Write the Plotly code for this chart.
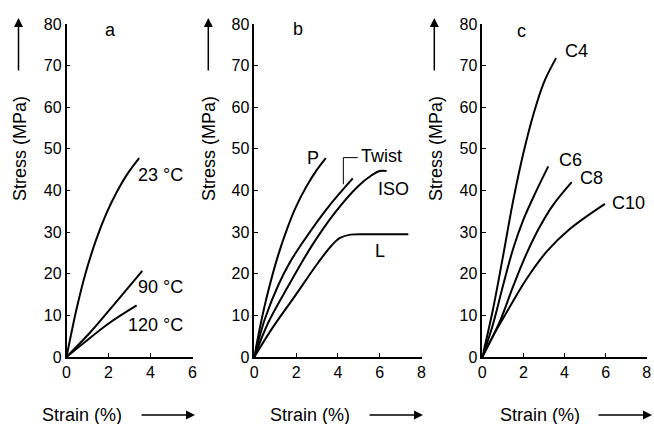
import plotly.graph_objects as go

# ---- data ----
# panel a: temperature
a_23_x = [0, 0.25, 0.5, 0.9, 1.4, 1.9, 2.4, 2.9, 3.46]
a_23_y = [0, 6.2, 12.0, 20.0, 28.0, 34.5, 39.7, 44.0, 47.8]
a_90_x = [0, 1.2, 2.31, 3.61]
a_90_y = [0, 6.3, 12.9, 20.7]
a_120_x = [0, 0.88, 1.99, 3.34]
a_120_y = [0, 3.6, 8.0, 12.4]

# panel b: orientation
b_P_x = [0, 0.3, 0.67, 1.15, 1.6, 1.95, 2.5, 3.0, 3.42]
b_P_y = [0, 7.8, 15.9, 24.6, 31.2, 35.6, 41.0, 45.0, 47.8]
b_T_x = [0, 0.25, 0.51, 1.15, 1.7, 2.27, 3.47, 4.71]
b_T_y = [0, 4.8, 9.2, 17.3, 22.7, 27.2, 35.6, 42.9]
b_I_x = [0, 0.67, 1.63, 2.75, 3.86, 4.98, 5.6, 6.0, 6.33]
b_I_y = [0, 8.3, 17.1, 26.7, 34.7, 41.1, 43.6, 44.7, 44.7]
b_L_x = [0, 0.83, 1.95, 3.06, 3.7, 4.1, 4.6, 5.5, 7.37]
b_L_y = [0, 6.7, 14.7, 22.7, 26.8, 28.6, 29.4, 29.5, 29.5]

# panel c: chain length
c_4_x = [0, 0.5, 1.0, 1.5, 2.0, 2.5, 3.0, 3.59]
c_4_y = [0, 11, 24, 37.5, 49, 58.5, 66, 71.8]
c_6_x = [0, 0.5, 1.0, 1.5, 2.0, 2.6, 3.21]
c_6_y = [0, 7.5, 17.0, 26.0, 33.0, 39.6, 45.8]
c_8_x = [0, 0.86, 1.51, 2.16, 2.81, 3.46, 4.35]
c_8_y = [0, 8.6, 17.1, 24.9, 31.4, 36.6, 42.0]
c_10_x = [0, 0.54, 1.19, 2.16, 3.13, 4.27, 5.97]
c_10_y = [0, 5.2, 10.8, 18.8, 25.3, 30.8, 36.8]

y_ticks = [0, 10, 20, 30, 40, 50, 60, 70, 80]
a_xticks = [0, 2, 4, 6]
bc_xticks = [0, 2, 4, 6, 8]

FONT = "Liberation Sans, Arial, sans-serif"
W, H = 654, 424

def px(xp):
    return xp / W

def py(yp):
    return (H - yp) / H

fig = go.Figure()

series = [
    (a_23_x, a_23_y, "x", "y"), (a_90_x, a_90_y, "x", "y"), (a_120_x, a_120_y, "x", "y"),
    (b_P_x, b_P_y, "x2", "y2"), (b_T_x, b_T_y, "x2", "y2"), (b_I_x, b_I_y, "x2", "y2"), (b_L_x, b_L_y, "x2", "y2"),
    (c_4_x, c_4_y, "x3", "y3"), (c_6_x, c_6_y, "x3", "y3"), (c_8_x, c_8_y, "x3", "y3"), (c_10_x, c_10_y, "x3", "y3"),
]
for xs, ys, xa, ya in series:
    fig.add_trace(go.Scatter(x=xs, y=ys, xaxis=xa, yaxis=ya, mode="lines",
                             line=dict(color="black", width=2, shape="spline", smoothing=1.0),
                             showlegend=False, hoverinfo="skip"))

y0, y1 = py(357), py(24)
domains = [(px(66.5), px(192.5), [0, 6], a_xticks),
           (px(254.3), px(421.5), [0, 8], bc_xticks),
           (px(482.3), px(646.7), [0, 8], bc_xticks)]

axcommon = dict(showgrid=False, zeroline=False, showline=True, linecolor="black", linewidth=1.5,
                ticks="inside", ticklen=4, tickwidth=1, tickcolor="black", automargin=False,
                tickfont=dict(family=FONT, size=16, color="black"))
for i, (d0, d1, rng, xt) in enumerate(domains):
    sfx = "" if i == 0 else str(i + 1)
    anchor = "y" + sfx
    fig.update_layout(**{
        "xaxis" + sfx: dict(domain=[d0, d1], range=rng, tickvals=xt, anchor=anchor, **axcommon),
        "yaxis" + sfx: dict(domain=[y0, y1], range=[0, 80], tickvals=y_ticks, anchor="x" + sfx, **axcommon),
    })

ann = []
tf = dict(family=FONT, size=18, color="black")

def label(text, x, y, xref, yref, xanchor="center"):
    ann.append(dict(text=text, x=x, y=y, xref=xref, yref=yref, showarrow=False,
                    font=tf, xanchor=xanchor, yanchor="middle"))

# curve labels
label("a", 2.08, 78.6, "x", "y")
label("23 °C", 4.46, 43.7, "x", "y")
label("90 °C", 4.46, 16.9, "x", "y")
label("120 °C", 4.22, 7.6, "x", "y")
label("b", 2.1, 78.8, "x2", "y2")
label("P", 2.82, 47.9, "x2", "y2")
label("Twist", 5.0, 48.3, "x2", "y2", xanchor="left")
label("ISO", 6.65, 40.3, "x2", "y2")
label("L", 6.01, 25.5, "x2", "y2")
label("c", 1.92, 78.3, "x3", "y3")
label("C4", 4.59, 73.5, "x3", "y3")
label("C6", 4.27, 47.4, "x3", "y3")
label("C8", 5.32, 43.0, "x3", "y3")
label("C10", 7.1, 37.1, "x3", "y3")

# axis titles with arrows
for ytx, arx in [(20, 18.5), (209, 208.3), (436, 434.3)]:
    ann.append(dict(text="Stress (MPa)", x=px(ytx), y=py(149), xref="paper", yref="paper",
                    showarrow=False, textangle=-90, font=tf, xanchor="center", yanchor="middle"))
    ann.append(dict(text="", x=px(arx), y=py(18), xref="paper", yref="paper",
                    showarrow=True, ax=0, ay=54, arrowhead=2, arrowsize=1.2, arrowwidth=1.5,
                    arrowcolor="black"))
for xtx, a0, a1 in [(82, 140, 195), (310, 368, 423), (540, 597, 652)]:
    ann.append(dict(text="Strain (%)", x=px(xtx), y=py(415), xref="paper", yref="paper",
                    showarrow=False, font=tf, xanchor="center", yanchor="middle"))
    ann.append(dict(text="", x=px(a1), y=py(415), xref="paper", yref="paper",
                    showarrow=True, ax=-(a1 - a0), ay=0, arrowhead=2, arrowsize=1.2, arrowwidth=1.5,
                    arrowcolor="black"))

fig.update_layout(annotations=ann)

# Twist bracket
fig.add_shape(type="line", xref="x2", yref="y2", x0=4.26, y0=41.5, x1=4.26, y1=47.9,
              line=dict(color="black", width=1))
fig.add_shape(type="line", xref="x2", yref="y2", x0=4.26, y0=47.9, x1=4.95, y1=47.9,
              line=dict(color="black", width=1))

fig.update_layout(width=W, height=H, margin=dict(l=0, r=0, t=0, b=0, autoexpand=False),
                  paper_bgcolor="white", plot_bgcolor="white",
                  font=dict(family=FONT, color="black"))

fig.write_html("out.html", config={"displayModeBar": False},
               post_script="document.body.style.margin='0';document.body.style.overflow='hidden';")
